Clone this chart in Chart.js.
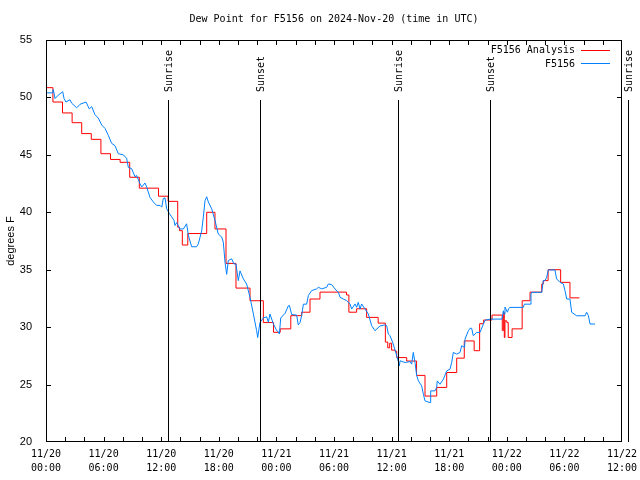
<!DOCTYPE html>
<html>
<head>
<meta charset="utf-8">
<script src="https://cdn.jsdelivr.net/npm/chart.js@4.4.1/dist/chart.umd.min.js"></script>
<style>
  html, body { margin: 0; padding: 0; background: #fff; }
  #wrap { width: 640px; height: 480px; }
</style>
</head>
<body>
<div id="wrap"><canvas id="chart" width="640" height="480"></canvas></div>
<script>
// hours since 2024-11-20 00:00 UTC
const obsHours = [
  0.0, 0.69, 0.76, 0.94, 1.28, 1.74, 1.88, 2.08, 2.5, 2.67, 3.19, 3.54, 4.17, 4.51, 4.76,
  5.1, 5.45, 5.8, 6.15, 6.49, 6.84, 7.19, 7.53, 8.06, 8.4, 8.58, 8.92, 9.27, 9.44, 9.79,
  9.97, 10.31, 10.49, 10.83, 11.18, 11.53, 11.88, 12.06, 12.22, 12.4, 12.57, 12.85, 13.09, 13.33, 13.44,
  13.61, 13.96, 14.31, 14.65, 14.83, 15.17, 15.69, 15.87, 16.22, 16.39, 16.56, 16.74, 16.91, 17.26, 17.6,
  17.95, 18.3, 18.47, 18.65, 18.82, 18.99, 19.34, 19.58, 19.79, 20.03, 20.21, 20.56, 20.9, 21.25, 21.6,
  21.94, 22.05, 22.29, 22.64, 22.99, 23.16, 23.33, 23.68, 24.03, 24.2, 24.31, 24.45, 24.9, 25.24, 25.35,
  25.59, 26.11, 26.28, 26.46, 26.63, 26.81, 27.15, 27.33, 27.67, 28.19, 28.37, 28.72, 29.24, 29.41, 29.76,
  30.1, 30.45, 30.63, 30.97, 31.32, 31.67, 31.84, 32.19, 32.36, 32.53, 32.71, 32.88, 33.23, 33.58, 33.92,
  34.27, 34.79, 35.31, 35.49, 35.66, 35.83, 36.1, 36.4, 36.7, 36.81, 36.88, 37.4, 37.92, 38.09, 38.26,
  38.44, 38.61, 38.79, 39.13, 39.31, 39.48, 40.0, 40.07, 40.52, 40.69, 40.76, 41.04, 41.39, 41.74, 42.08,
  42.26, 42.43, 42.78, 43.13, 43.3, 43.6, 43.65, 44.0, 44.17, 44.34, 44.51, 44.86, 45.21, 45.56, 45.73,
  46.25, 47.5, 47.64, 47.71, 47.81, 48.06, 48.19, 48.3, 49.72, 49.83, 50.42, 50.52, 50.59, 51.64, 51.8,
  51.98, 52.15, 52.33, 53.02, 53.09, 53.19, 53.54, 53.89, 54.06, 54.24, 54.58, 54.76, 55.28, 56.15, 56.32,
  56.5, 56.67, 57.19
];
const obsDewF = [
  50.4, 50.4, 50.7, 49.9, 50.2, 50.5, 49.9, 49.6, 49.8, 49.5, 49.1, 49.4, 49.6, 49.0, 49.2,
  48.5, 48.2, 47.6, 47.3, 46.7, 46.0, 45.8, 45.1, 45.0, 44.7, 43.9, 43.8, 43.1, 43.2, 42.5,
  42.2, 42.55, 42.2, 41.3, 40.9, 40.6, 40.6, 40.45, 41.2, 41.25, 40.3, 39.9, 39.6, 39.3, 38.85,
  39.1, 38.55, 38.55, 39.0, 38.0, 37.0, 37.0, 37.25, 38.4, 39.6, 41.0, 41.35, 40.9, 40.3, 39.3,
  38.1, 37.85, 37.4, 35.65, 34.6, 35.8, 35.95, 35.5, 35.5, 34.05, 34.9, 34.2, 33.75, 32.6, 31.15,
  29.7, 29.1, 30.4, 30.8, 30.9, 30.42, 31.14, 30.3, 29.7, 29.6, 29.4, 30.8, 31.2, 31.85, 31.9,
  31.1, 31.05, 30.2, 30.4, 31.0, 32.0, 32.0, 32.75, 33.18, 33.33, 33.47, 33.33, 33.47, 33.76, 33.7,
  33.33, 33.04, 32.6, 32.45, 32.31, 32.02, 31.58, 32.02, 31.73, 32.16, 31.58, 32.02, 31.58, 31.14, 30.13,
  29.69, 30.1, 30.2, 30.13, 29.4, 29.25, 28.7, 27.9, 27.0, 26.63, 27.07, 26.92, 27.0, 26.78, 27.8,
  26.9, 25.8, 25.32, 24.89, 24.16, 23.58, 23.43, 24.45, 24.45, 24.74, 25.32, 25.03, 25.47, 26.19, 26.34,
  26.92, 27.8, 27.65, 27.8, 28.38, 28.23, 28.96, 29.69, 29.9, 29.9, 29.25, 29.54, 29.54, 30.27, 30.6,
  30.7, 30.7, 31.43, 31.14, 31.75, 31.3, 31.6, 31.72, 31.72, 32.0, 32.0, 32.88, 33.03, 33.03, 34.05,
  34.05, 34.34, 34.98, 34.98, 34.63, 34.2, 33.9, 33.76, 33.18, 32.45, 32.45, 31.29, 30.99, 30.99, 31.29,
  31.0, 30.27, 30.27
];

const anaHours = [
  0, 0.72, 1.72, 2.72, 3.72, 4.72, 5.72, 6.72, 7.72, 8.72, 9.72, 11.72, 12.72, 13.72, 13.9,
  14.2, 14.77, 16.74, 17.6, 18.75, 19.79, 21.25, 22.64, 23.7, 24.4, 25.5, 26.63, 27.5, 28.54, 31.3,
  31.55, 32.36, 33.4, 34.6, 35.35, 35.6, 35.8, 36.0, 36.35, 36.53, 37.57, 38.6, 39.48, 40.7, 41.74,
  42.78, 43.57, 44.6, 45.17, 45.59, 46.46, 47.53, 47.64, 47.74, 47.81, 48.0, 48.15, 48.55, 49.6, 50.42,
  51.64, 51.8, 52.3, 53.61, 54.58, 55.56
];
const anaDewF = [
  50.85, 49.6, 48.65, 47.8, 46.85, 46.35, 45.1, 44.6, 44.35, 43.05, 42.1, 41.4, 40.95, 38.7, 38.4,
  37.15, 38.15, 40.0, 38.55, 35.55, 33.4, 32.3, 30.4, 29.55, 29.85, 31.0, 31.3, 32.45, 33.05, 32.8,
  31.3, 31.6, 30.85, 30.35, 28.7, 28.2, 28.6, 28.0, 27.9, 27.35, 27.05, 25.8, 24.0, 24.75, 26.05,
  27.3, 28.8, 27.95, 30.3, 30.62, 31.05, 29.7, 31.3, 29.1, 30.55, 30.4, 29.1, 29.85, 32.3, 33.05,
  33.75, 34.05, 35.0, 33.9, 32.55, 32.55
];

const eventHours = [12.7, 22.28, 36.68, 46.25, 60.6];
const eventNames = ["Sunrise", "Sunset", "Sunrise", "Sunset", "Sunrise"];

const xTickHours = [0, 6, 12, 18, 24, 30, 36, 42, 48, 54, 60];
const xTickDates = ["11/20", "11/20", "11/20", "11/20", "11/21", "11/21", "11/21", "11/21", "11/22", "11/22", "11/22"];
const xTickTimes = ["00:00", "06:00", "12:00", "18:00", "00:00", "06:00", "12:00", "18:00", "00:00", "06:00", "12:00"];

const TITLE = "Dew Point for F5156 on 2024-Nov-20 (time in UTC)";
const RED = "#ff0000";
const BLUE = "rgb(0,128,255)";
const MONO = "'DejaVu Sans Mono', monospace";
const SANS = "'Liberation Sans', Arial, sans-serif";

const toPoints = (xs, ys) => xs.map((h, i) => ({ x: h, y: ys[i] }));

const gnuFrame = {
  id: "gnuFrame",
  afterDatasetsDraw(chart) {
    const { ctx, chartArea: a, scales: { x, y } } = chart;
    ctx.save();
    ctx.strokeStyle = "#000";
    ctx.lineWidth = 1;

    // sunrise / sunset markers
    ctx.font = "10px " + MONO;
    ctx.fillStyle = "#000";
    eventHours.forEach((h, i) => {
      const px = Math.round(x.getPixelForValue(h)) + 0.5;
      ctx.beginPath();
      ctx.moveTo(px, 100);
      ctx.lineTo(px, a.bottom);
      ctx.stroke();
      ctx.save();
      ctx.translate(px + 1, 92);
      ctx.rotate(-Math.PI / 2);
      ctx.textAlign = "left";
      ctx.textBaseline = "middle";
      ctx.fillText(eventNames[i], 0, 0);
      ctx.restore();
    });

    // border
    ctx.strokeRect(a.left + 0.5, a.top + 0.5, a.right - a.left - 1, a.bottom - a.top - 1);

    // inward tics
    ctx.beginPath();
    for (let h = 2; h < 60; h += 2) {
      const px = Math.round(x.getPixelForValue(h)) + 0.5;
      ctx.moveTo(px, a.bottom);
      ctx.lineTo(px, a.bottom - 5);
      ctx.moveTo(px, a.top);
      ctx.lineTo(px, a.top + 5);
    }
    for (let v = 25; v < 55; v += 5) {
      const py = Math.round(y.getPixelForValue(v)) + 0.5;
      ctx.moveTo(a.left, py);
      ctx.lineTo(a.left + 5, py);
      ctx.moveTo(a.right, py);
      ctx.lineTo(a.right - 5, py);
    }
    ctx.stroke();

    // title
    ctx.font = "10px " + MONO;
    ctx.textAlign = "center";
    ctx.textBaseline = "middle";
    ctx.fillText(TITLE, 334, 19);

    // y label
    ctx.save();
    ctx.font = "11px " + SANS;
    ctx.translate(11, 241);
    ctx.rotate(-Math.PI / 2);
    ctx.fillText("degrees F", 0, 0);
    ctx.restore();

    // key
    ctx.font = "10px " + MONO;
    ctx.textAlign = "right";
    ctx.fillText("F5156 Analysis", 575, 50);
    ctx.fillText("F5156", 575, 64);
    ctx.strokeStyle = RED;
    ctx.beginPath();
    ctx.moveTo(581, 50.5);
    ctx.lineTo(610, 50.5);
    ctx.stroke();
    ctx.strokeStyle = BLUE;
    ctx.beginPath();
    ctx.moveTo(581, 63.5);
    ctx.lineTo(610, 63.5);
    ctx.stroke();
    ctx.restore();
  },
};

new Chart(document.getElementById("chart"), {
  type: "line",
  data: {
    datasets: [
      {
        label: "F5156 Analysis",
        data: toPoints(anaHours, anaDewF),
        borderColor: RED,
        borderWidth: 1,
        pointRadius: 0,
        stepped: true,
        order: 2,
      },
      {
        label: "F5156",
        data: toPoints(obsHours, obsDewF),
        borderColor: BLUE,
        borderWidth: 1,
        pointRadius: 0,
        tension: 0,
        order: 1,
      },
    ],
  },
  options: {
    responsive: false,
    animation: false,
    devicePixelRatio: 1,
    events: [],
    layout: { padding: { top: 40, right: 18, left: 0, bottom: 0 } },
    plugins: { legend: { display: false }, tooltip: { enabled: false }, title: { display: false } },
    scales: {
      x: {
        type: "linear",
        min: 0,
        max: 60,
        grid: { display: false },
        border: { display: false },
        afterFit: (s) => { s.height = 38; },
        ticks: {
          stepSize: 6,
          autoSkip: false,
          maxRotation: 0,
          padding: -3,
          color: "#000",
          font: { family: MONO, size: 10, lineHeight: 1.4 },
          callback: (v) => {
            const i = xTickHours.indexOf(v);
            return i < 0 ? "" : [xTickDates[i], xTickTimes[i]];
          },
        },
      },
      y: {
        min: 20,
        max: 55,
        grid: { display: false },
        border: { display: false },
        afterFit: (s) => { s.width = 46; },
        ticks: {
          stepSize: 5,
          padding: 6,
          color: "#000",
          font: { family: SANS, size: 11 },
        },
      },
    },
  },
  plugins: [gnuFrame],
});
</script>
</body>
</html>
